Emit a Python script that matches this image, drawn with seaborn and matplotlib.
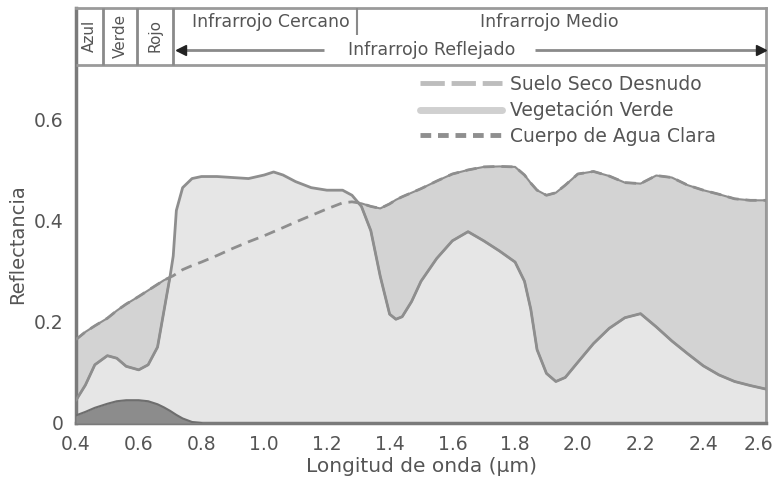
import numpy as np
import pandas as pd
import seaborn as sns
import matplotlib
matplotlib.use("Agg")
import matplotlib.pyplot as plt
import matplotlib.transforms as mtransforms
from matplotlib.lines import Line2D

# Spectral reflectance curves (wavelength in micrometres)
wavelength = [0.40, 0.43, 0.46, 0.50, 0.53, 0.56, 0.60, 0.63, 0.66, 0.68, 0.70, 0.71,
              0.72, 0.74, 0.77, 0.80, 0.85, 0.90, 0.95, 1.00, 1.03, 1.06, 1.10, 1.15,
              1.20, 1.25, 1.28, 1.31, 1.34, 1.37, 1.40, 1.42, 1.44, 1.47, 1.50, 1.55,
              1.60, 1.65, 1.70, 1.75, 1.80, 1.83, 1.85, 1.87, 1.90, 1.93, 1.96, 2.00,
              2.05, 2.10, 2.15, 2.20, 2.25, 2.30, 2.35, 2.40, 2.45, 2.50, 2.55, 2.60]

vegetation = [0.045, 0.075, 0.115, 0.133, 0.128, 0.112, 0.105, 0.115, 0.150, 0.220, 0.290, 0.330,
              0.420, 0.465, 0.483, 0.487, 0.487, 0.485, 0.483, 0.490, 0.496, 0.490, 0.477, 0.465,
              0.460, 0.460, 0.450, 0.428, 0.380, 0.290, 0.215, 0.205, 0.210, 0.240, 0.280, 0.325,
              0.360, 0.378, 0.360, 0.340, 0.318, 0.280, 0.225, 0.145, 0.098, 0.082, 0.090, 0.120,
              0.157, 0.187, 0.208, 0.216, 0.190, 0.162, 0.137, 0.113, 0.095, 0.082, 0.074, 0.067]

soil = [0.165, 0.180, 0.192, 0.207, 0.222, 0.235, 0.250, 0.262, 0.274, 0.282, 0.288, 0.291,
        0.295, 0.303, 0.311, 0.318, 0.331, 0.345, 0.358, 0.370, 0.378, 0.386, 0.397, 0.410,
        0.423, 0.435, 0.437, 0.434, 0.428, 0.424, 0.433, 0.441, 0.447, 0.455, 0.463, 0.478,
        0.492, 0.500, 0.506, 0.507, 0.506, 0.490, 0.474, 0.460, 0.450, 0.455, 0.470, 0.492,
        0.497, 0.488, 0.475, 0.473, 0.489, 0.485, 0.470, 0.460, 0.452, 0.443, 0.440, 0.440]

water_wavelength = [0.40, 0.43, 0.46, 0.50, 0.53, 0.56, 0.60, 0.63, 0.66, 0.68, 0.70, 0.72, 0.74, 0.77, 0.80]
water = [0.015, 0.022, 0.030, 0.038, 0.043, 0.045, 0.045, 0.043, 0.037, 0.031, 0.024, 0.016, 0.009, 0.002, 0.0]

x_ticks = [0.4, 0.6, 0.8, 1.0, 1.2, 1.4, 1.6, 1.8, 2.0, 2.2, 2.4, 2.6]
x_tick_labels = ["0.4", "0.6", "0.8", "1.0", "1.2", "1.4", "1.6", "1.8", "2.0", "2.2", "2.4", "2.6"]
y_ticks = [0.0, 0.1, 0.2, 0.3, 0.4, 0.5, 0.6]
y_tick_labels = ["0", "", "0.2", "", "0.4", "", "0.6"]

band_edges = [0.40, 0.487, 0.594, 0.709]
band_names = ["Azul", "Verde", "Rojo"]
near_ir_end = 1.296

legend_labels = ["Suelo Seco Desnudo", "Vegetación Verde", "Cuerpo de Agua Clara"]

df = pd.DataFrame({"wl": wavelength, "veg": vegetation, "soil": soil})
df_water = pd.DataFrame({"wl": water_wavelength, "water": water})

sns.set_style("white")
plt.rcParams["font.family"] = ["DejaVu Sans"]

TEXT = "#555555"
LIGHT = "#e6e6e6"
MEDIUM = "#d3d3d3"
DARK = "#8c8c8c"
EDGE = "#8e8e8e"

fig = plt.figure(figsize=(7.74, 4.78), dpi=100)
ax = fig.add_axes([76 / 774, 55 / 478, 690 / 774, 415 / 478])
ax.set_xlim(0.4, 2.6)
ax.set_ylim(0, 0.82)

wl = np.array(wavelength)
veg = np.array(vegetation)
sl = np.array(soil)

# Filled areas
ax.fill_between(wl, 0, veg, color=LIGHT, lw=0, zorder=1)
ax.fill_between(wl, veg, sl, where=sl >= veg, interpolate=True, color=MEDIUM,
                edgecolor=EDGE, lw=1.5, zorder=2)
ax.fill_between(df_water["wl"], 0, df_water["water"], color=DARK, lw=0, zorder=3)

# Curves
sns.lineplot(data=df, x="wl", y="veg", ax=ax, color=EDGE, lw=2, zorder=4, sort=False)
sns.lineplot(data=df, x="wl", y="soil", ax=ax, color=EDGE, lw=2, ls=(0, (4, 2.5)),
             zorder=4, sort=False)
sns.lineplot(data=df_water, x="wl", y="water", ax=ax, color="#6e6e6e", lw=1.5,
             zorder=4, sort=False)

# Header with spectral regions
hdr_bottom = 0.7075
row_mid = 0.767
ax.hlines(hdr_bottom, 0.4, 2.6, color="#9a9a9a", lw=2, zorder=5)
for e in band_edges[1:]:
    ax.vlines(e, hdr_bottom, 0.82, color="#8a8a8a", lw=2, zorder=5)
ax.vlines(near_ir_end, row_mid, 0.82, color="#8a8a8a", lw=1.5, zorder=5)
for name, a, b in zip(band_names, band_edges[:-1], band_edges[1:]):
    ax.text((a + b) / 2, 0.765, name, rotation=90, ha="center", va="center",
            fontsize=11, color=TEXT)
ax.text(1.02, 0.793, "Infrarrojo Cercano", ha="center", va="center", fontsize=12.5, color=TEXT)
ax.text(1.91, 0.793, "Infrarrojo Medio", ha="center", va="center", fontsize=12.5, color=TEXT)
ax.text(1.535, 0.737, "Infrarrojo Reflejado", ha="center", va="center", fontsize=12.5, color=TEXT)
ax.hlines(0.737, 0.722, 1.19, color="#8a8a8a", lw=2, zorder=5)
ax.hlines(0.737, 1.865, 2.6, color="#8a8a8a", lw=2, zorder=5)
ax.plot([0.735], [0.737], marker="<", color="#222222", ms=7, zorder=6, clip_on=False)
ax.plot([2.585], [0.737], marker=">", color="#222222", ms=7, zorder=6, clip_on=False)

# Axes styling
ax.set_xticks(x_ticks)
ax.set_xticklabels(x_tick_labels)
ax.set_yticks(y_ticks)
ax.set_yticklabels(y_tick_labels)
ax.tick_params(axis="both", direction="out", length=6, width=1.5, color="#555555",
               labelsize=13.5, labelcolor=TEXT, pad=3)
last = ax.get_xticklabels()[-1]
last.set_ha("right")
last.set_transform(last.get_transform() + mtransforms.ScaledTranslation(7 / 100, 0, fig.dpi_scale_trans))
for side in ["left", "bottom"]:
    ax.spines[side].set_color("#7a7a7a")
    ax.spines[side].set_linewidth(2.5)
for side in ["top", "right"]:
    ax.spines[side].set_color("#9a9a9a")
    ax.spines[side].set_linewidth(2)
ax.set_xlabel("Longitud de onda (µm)", fontsize=14.5, color=TEXT, labelpad=2)
ax.set_ylabel("Reflectancia", fontsize=14, color=TEXT, labelpad=5, y=0.431)

handles = [
    Line2D([], [], color="#bdbdbd", lw=3.5, ls=(0, (5, 1.4))),
    Line2D([], [], color="#d0d0d0", lw=5),
    Line2D([], [], color="#8f8f8f", lw=3.5, ls=(0, (2.2, 1.4))),
]
leg = ax.legend(handles, legend_labels, loc="upper left", bbox_to_anchor=(0.487, 0.857),
                frameon=False, fontsize=13.5, handlelength=4.4, handletextpad=0.4,
                labelspacing=0.35, borderaxespad=0)
for t in leg.get_texts():
    t.set_color(TEXT)

fig.savefig("out.png", dpi=100)
